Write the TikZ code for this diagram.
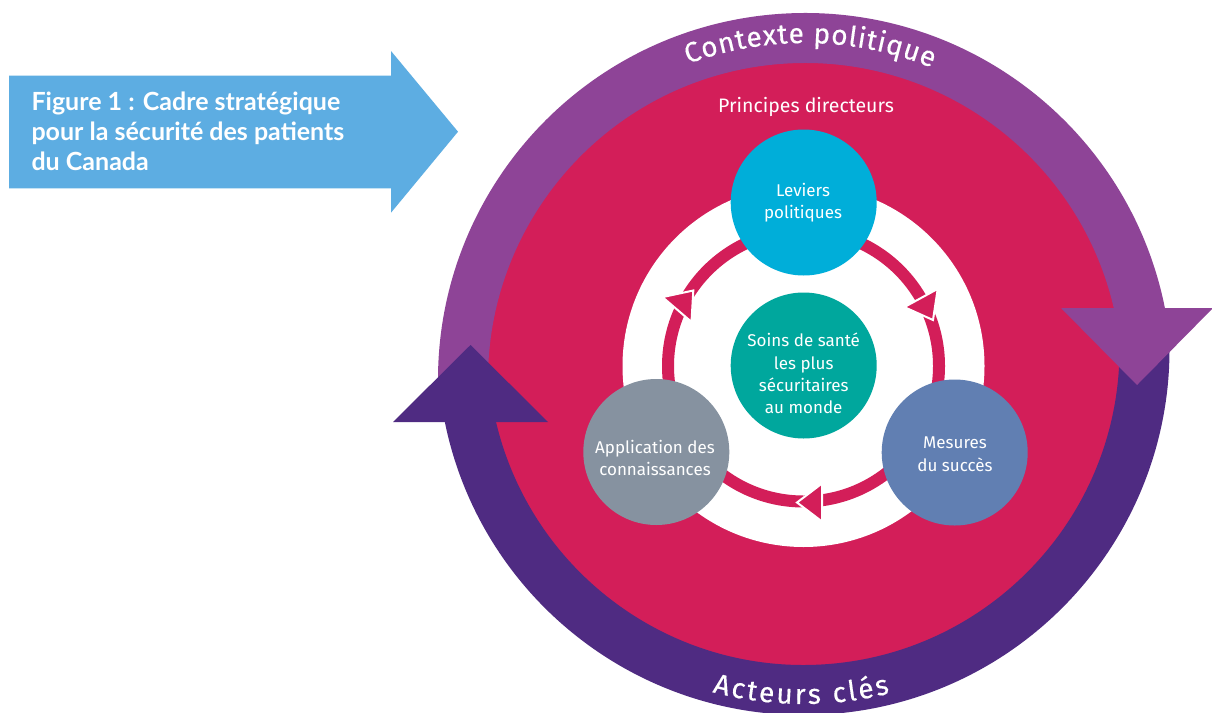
\documentclass[tikz,border=0pt]{standalone}
\usepackage{fontspec}
\setmainfont{Fira Sans}
\newfontfamily\titlefam{Lato}
\newfontfamily\arcfam{Fira Sans}[FakeBold=0.4]
\usetikzlibrary{decorations.text}

\definecolor{skyarrow}{HTML}{5DADE2}
\definecolor{polviolet}{HTML}{8E4497}
\definecolor{actviolet}{HTML}{4F2B82}
\definecolor{crimson}{HTML}{D31E59}
\definecolor{levcyan}{HTML}{00AED9}
\definecolor{soinsteal}{HTML}{00A79D}
\definecolor{appgray}{HTML}{8692A0}
\definecolor{mesblue}{HTML}{617FB2}

\newcommand\arcfont{\arcfam\fontsize{28}{32}\selectfont}

\begin{document}
\begin{tikzpicture}[x=1pt,y=1pt,
  hub/.style={circle, minimum size=146pt, inner sep=0pt},
  lbl/.style={text=white, align=center, font=\fontsize{17}{22.2}\selectfont},
  cyclehead/.style={fill=crimson, draw=white, line width=2pt, line join=miter},
  band/.style={line width=50pt},
  arctext/.style={decorate, decoration={text along path, text color=white,
      text={|\arcfont|#1}, text align={fit to path}}},
]
\useasboundingbox (0,0) rectangle (1212,-712);
\fill[white] (0,0) rectangle (1212,-712);

% title arrow
\fill[skyarrow] (9,-75.7) -- (391,-75.7) -- (391,-51) -- (458,-131.7)
  -- (391,-212.7) -- (391,-188.3) -- (9,-188.3) -- cycle;
\node[anchor=west, align=left, text=white,
      font=\titlefam\bfseries\fontsize{25}{29.8}\selectfont] (title) at (28,-131.4)
  {Figure 1 : Cadre stratégique\\pour la sécurité des patients\\du Canada};

% centres
\coordinate (O) at (803.5,-366);  % inner cycle
\coordinate (P) at (805,-380);    % upper band
\coordinate (A) at (803.5,-349);  % lower band

% guiding principles disk
\fill[crimson] (805,-366) circle[radius=320];

% outer bands with their arrowheads
\draw[polviolet, band] (P) ++(184:342) arc[start angle=184, end angle=8, radius=342];
\draw[actviolet, band] (A) ++(2:341) arc[start angle=2, end angle=-172, radius=341];
\fill[polviolet] (1061,-308) -- (1213,-308) -- (1137,-385) -- cycle;
\fill[actviolet] (393,-422) -- (548,-422) -- (470.5,-345) -- cycle;

% curved band labels
\path[arctext=Contexte politique] (P) ++(110.3:337) arc[start angle=110.3, end angle=67.9, radius=337];
\path[arctext=Acteurs clés] (A) ++(255.1:355) arc[start angle=255.1, end angle=284.1, radius=355];

\node[text=white, font=\fontsize{19.5}{20}\selectfont, anchor=base] (princ) at (806,-112.7) {Principes directeurs};

% inner cycle
\fill[white] (O) circle[radius=181];
\draw[crimson, line width=12pt] (O) circle[radius=135.5];
\filldraw[cyclehead] (797,-502.5) -- (822,-483.5) -- (822,-521.5) -- cycle;
\filldraw[cyclehead] (933,-320) -- (937.7,-288.9) -- (904.3,-307.1) -- cycle;
\filldraw[cyclehead] (693.3,-290.5) -- (691.5,-321.9) -- (662.5,-297.1) -- cycle;

\node[hub, fill=levcyan] (lev) at (803.7,-202.5) {};
\node[hub, fill=soinsteal] (soins) at (803.7,-365.5) {};
\node[hub, fill=appgray] (app) at (656.3,-452) {};
\node[hub, fill=mesblue] (mes) at (954.7,-452.5) {};

\node[lbl] (levtxt) at (803,-203) {Leviers\\politiques};
\node[lbl] (soinstxt) at (803.7,-373.5) {Soins de santé\\les plus\\sécuritaires\\au monde};
\node[lbl] (apptxt) at (655,-458) {Application des\\connaissances};
\node[lbl] (mestxt) at (955,-454.3) {Mesures\\du succès};
\end{tikzpicture}
\end{document}
